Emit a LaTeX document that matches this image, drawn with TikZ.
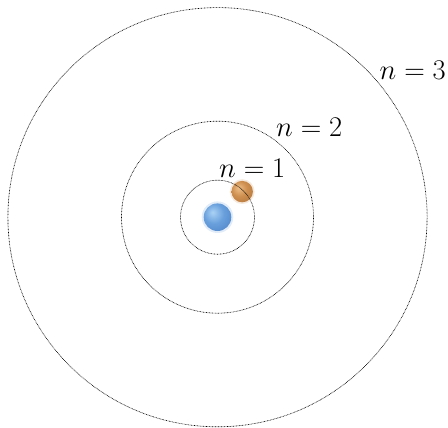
\RequirePackage{fix-cm}
\documentclass[tikz,border=0pt]{standalone}
\definecolor{nucA}{RGB}{170,210,245}
\definecolor{nucB}{RGB}{105,160,220}
\definecolor{nucC}{RGB}{70,122,192}
\definecolor{eleA}{RGB}{238,190,135}
\definecolor{eleB}{RGB}{205,142,78}
\definecolor{eleC}{RGB}{170,110,55}
\pgfdeclareradialshading{nucshade}{\pgfpoint{-9bp}{9bp}}{color(0bp)=(nucA); color(18bp)=(nucB); color(45bp)=(nucC); color(70bp)=(nucC)}
\pgfdeclareradialshading{eleshade}{\pgfpoint{-9bp}{9bp}}{color(0bp)=(eleA); color(18bp)=(eleB); color(45bp)=(eleC); color(70bp)=(eleC)}
\tikzset{
  orbit/.style={draw=black, line width=0.65pt, dash pattern=on 0.7pt off 0.8pt},
  lab/.style={anchor=base west, inner sep=0pt, font=\fontsize{28.5}{32}\selectfont},
  nucball/.style={circle, inner sep=0pt, minimum size=27.6pt, shading=nucshade},
  eleball/.style={circle, inner sep=0pt, minimum size=21.4pt, shading=eleshade},
}
\begin{document}
\begin{tikzpicture}[x=1pt,y=-1pt]
\useasboundingbox (0,0) rectangle (448,428);
\coordinate (c) at (217.5,217.2);
\coordinate (e) at (242.2,191.6);
% soft halos
\fill[nucB, opacity=0.2] (c) circle[radius=15.8pt];
\fill[eleB, opacity=0.2] (e) circle[radius=12.4pt];
\node[nucball] (nuc) at (c) {};
\node[eleball] (ele) at (e) {};
% orbits
\draw[orbit] (c) circle[radius=37pt];
\draw[orbit] (c) circle[radius=96pt];
\draw[orbit] (c) circle[radius=209.6pt];
% labels
\node[lab] (l1) at (219,178) {$n = 1$};
\node[lab] (l2) at (276,136.5) {$n = 2$};
\node[lab] (l3) at (379.5,80) {$n = 3$};
\end{tikzpicture}
\end{document}
